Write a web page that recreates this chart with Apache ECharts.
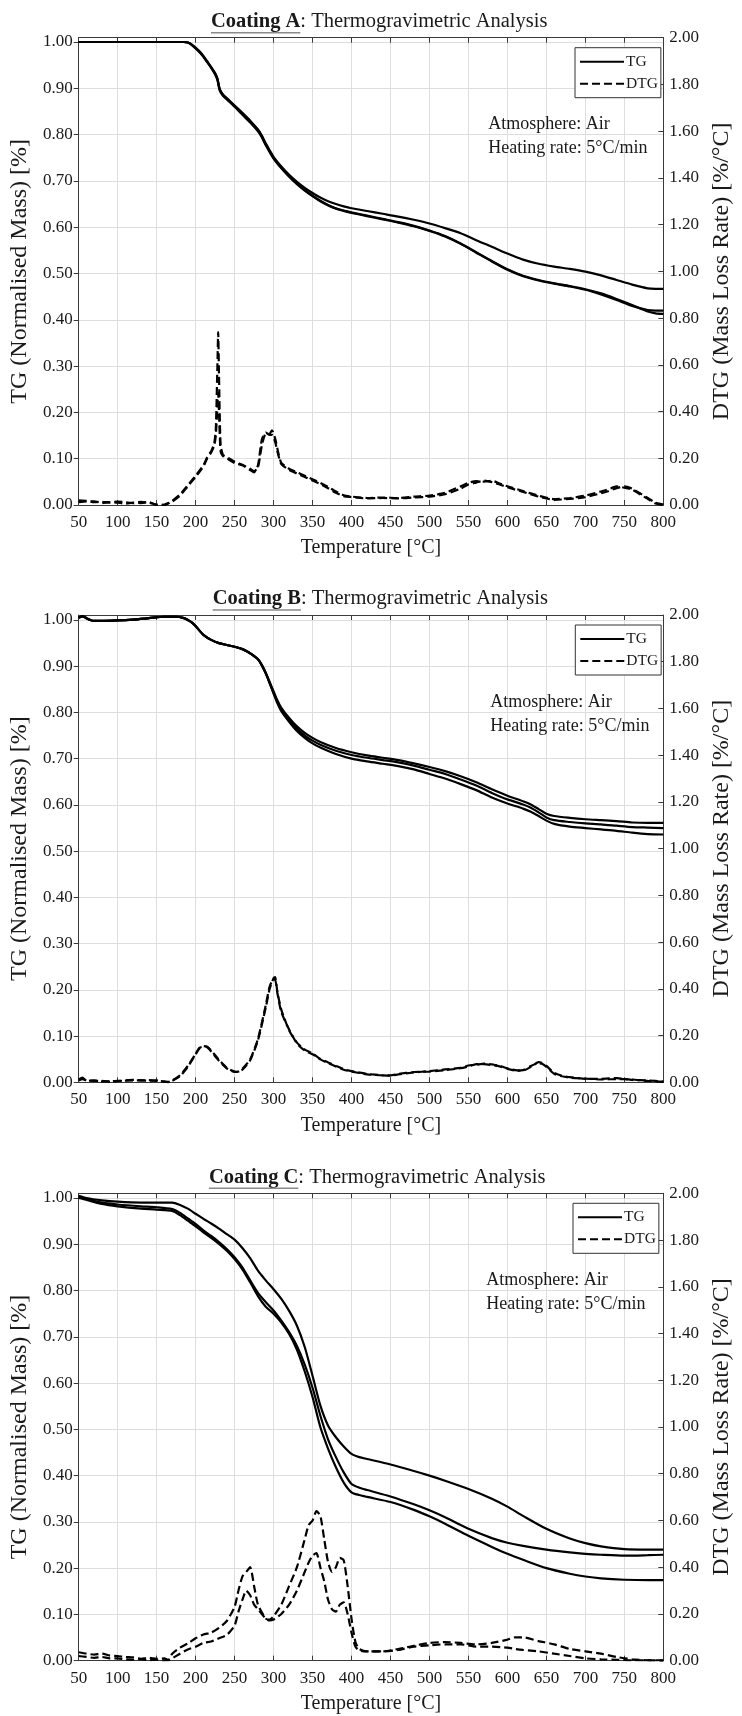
<!DOCTYPE html>
<html><head><meta charset="utf-8">
<script src="https://cdn.jsdelivr.net/npm/echarts@6/dist/echarts.min.js"></script>
<style>html,body{margin:0;padding:0;background:#fff}#c{width:742px;height:1716px}</style>
</head><body><div id="c"></div>
<script>
// ---------------- Panel A (Coating A) ----------------
const TA = [50,100,150,185,190,195,200,205,210,215,220,225,228,231,235,240,250,260,270,280,285,290,300,310,320,330,340,350,360,370,380,390,400,420,440,460,480,500,520,540,560,580,600,620,640,660,680,700,720,740,760,780,790,800];
const TG_A1 = [1.000,1.000,1.000,1.000,0.999,0.994,0.986,0.978,0.968,0.956,0.944,0.930,0.918,0.895,0.884,0.876,0.860,0.843,0.826,0.807,0.794,0.777,0.748,0.727,0.709,0.693,0.679,0.667,0.656,0.647,0.640,0.635,0.631,0.624,0.617,0.610,0.602,0.592,0.580,0.564,0.545,0.526,0.508,0.494,0.485,0.478,0.472,0.465,0.455,0.443,0.430,0.421,0.420,0.420];
const TG_A2 = [1.000,1.000,1.000,1.000,0.999,0.994,0.987,0.979,0.969,0.957,0.945,0.932,0.920,0.897,0.886,0.878,0.862,0.846,0.829,0.810,0.796,0.779,0.750,0.729,0.710,0.694,0.680,0.668,0.657,0.648,0.641,0.636,0.632,0.625,0.618,0.611,0.603,0.593,0.581,0.565,0.546,0.527,0.509,0.495,0.486,0.479,0.473,0.466,0.457,0.445,0.432,0.418,0.414,0.413];
const TG_A3 = [1.000,1.000,1.000,1.000,0.999,0.995,0.988,0.980,0.970,0.958,0.946,0.933,0.921,0.898,0.887,0.879,0.863,0.847,0.830,0.811,0.798,0.781,0.752,0.731,0.713,0.698,0.685,0.674,0.664,0.656,0.650,0.645,0.641,0.635,0.629,0.623,0.616,0.608,0.598,0.587,0.572,0.558,0.543,0.530,0.521,0.515,0.510,0.504,0.496,0.486,0.476,0.468,0.467,0.467];
const TAd = [50,60,70,80,90,100,110,120,130,140,150,160,170,180,190,200,210,215,220,224,226,228,229,230,232,235,240,250,260,270,275,280,285,290,295,298,302,306,310,320,330,340,350,360,370,380,390,400,420,440,460,480,500,520,540,550,560,570,580,590,600,620,640,660,680,700,720,730,740,750,760,770,780,790,800];
const DTG_A1 = [0.020,0.018,0.012,0.014,0.010,0.015,0.012,0.008,0.014,0.010,0.002,0.000,0.018,0.045,0.085,0.125,0.170,0.205,0.230,0.265,0.330,0.600,0.740,0.560,0.260,0.215,0.205,0.185,0.172,0.155,0.145,0.160,0.255,0.305,0.305,0.320,0.285,0.225,0.180,0.155,0.140,0.125,0.110,0.095,0.078,0.058,0.042,0.036,0.030,0.032,0.030,0.036,0.040,0.052,0.080,0.095,0.102,0.100,0.104,0.092,0.080,0.060,0.040,0.025,0.030,0.040,0.058,0.068,0.080,0.074,0.066,0.046,0.026,0.006,0.000];
const DTG_A2 = [0.012,0.015,0.016,0.008,0.012,0.010,0.006,0.010,0.008,0.012,0.000,0.002,0.015,0.040,0.080,0.120,0.165,0.200,0.225,0.255,0.300,0.420,0.480,0.400,0.230,0.210,0.200,0.180,0.170,0.150,0.140,0.170,0.280,0.310,0.300,0.300,0.270,0.215,0.175,0.150,0.135,0.120,0.105,0.090,0.072,0.052,0.038,0.034,0.028,0.030,0.028,0.032,0.036,0.046,0.070,0.088,0.096,0.104,0.098,0.088,0.076,0.056,0.036,0.022,0.026,0.034,0.050,0.060,0.072,0.080,0.070,0.050,0.030,0.010,0.002];

// ---------------- Panel B (Coating B) ----------------
const TB = [50,55,60,65,70,80,100,120,140,160,175,185,190,195,200,205,210,220,230,240,250,260,265,270,280,285,290,295,300,305,310,320,330,340,350,360,380,400,420,440,460,480,500,520,540,560,580,600,620,630,640,650,660,680,700,720,740,760,780,800];
const TG_B1 = [1.005,1.008,1.004,1.000,0.998,0.998,0.999,1.001,1.004,1.007,1.007,1.004,1.000,0.995,0.987,0.977,0.968,0.957,0.950,0.946,0.942,0.937,0.933,0.928,0.915,0.903,0.886,0.866,0.846,0.826,0.810,0.788,0.770,0.756,0.745,0.736,0.723,0.714,0.707,0.702,0.697,0.690,0.682,0.673,0.662,0.649,0.634,0.620,0.608,0.601,0.591,0.581,0.576,0.572,0.569,0.567,0.565,0.562,0.561,0.561];
const TG_B2 = [1.005,1.008,1.004,1.000,0.998,0.998,0.999,1.001,1.004,1.007,1.007,1.004,1.000,0.995,0.987,0.977,0.968,0.957,0.950,0.946,0.942,0.937,0.933,0.928,0.915,0.902,0.885,0.864,0.843,0.822,0.806,0.784,0.765,0.750,0.739,0.730,0.717,0.708,0.702,0.697,0.692,0.685,0.676,0.667,0.655,0.642,0.626,0.612,0.601,0.594,0.584,0.573,0.567,0.563,0.560,0.558,0.555,0.552,0.551,0.550];
const TG_B3 = [1.005,1.008,1.004,1.000,0.998,0.998,0.999,1.001,1.004,1.007,1.007,1.004,1.000,0.995,0.987,0.977,0.968,0.957,0.950,0.946,0.942,0.937,0.933,0.928,0.915,0.901,0.884,0.863,0.841,0.820,0.803,0.780,0.760,0.745,0.733,0.724,0.710,0.700,0.694,0.689,0.684,0.677,0.667,0.657,0.645,0.632,0.616,0.603,0.592,0.585,0.576,0.566,0.559,0.553,0.550,0.547,0.544,0.540,0.537,0.536];
const TBd = [50,55,60,70,80,90,100,120,140,150,160,165,170,180,190,200,205,210,215,220,230,240,250,255,260,270,280,290,295,300,302,305,310,320,330,340,350,360,370,380,390,400,420,440,450,460,480,500,520,540,550,560,570,580,590,600,610,620,630,640,645,650,660,670,680,700,720,740,760,780,800];
const DTG_B1 = [0.012,0.020,0.006,0.008,0.004,0.004,0.006,0.008,0.009,0.006,0.004,0.000,0.006,0.026,0.066,0.120,0.145,0.155,0.152,0.136,0.096,0.062,0.046,0.044,0.054,0.094,0.180,0.320,0.400,0.445,0.450,0.385,0.310,0.222,0.170,0.140,0.124,0.100,0.085,0.070,0.056,0.048,0.036,0.030,0.028,0.034,0.042,0.048,0.055,0.062,0.072,0.075,0.080,0.077,0.070,0.060,0.052,0.050,0.066,0.086,0.082,0.070,0.040,0.028,0.022,0.015,0.015,0.018,0.010,0.008,0.003];
const DTG_B2 = [0.008,0.014,0.008,0.006,0.006,0.003,0.005,0.010,0.007,0.008,0.002,0.002,0.008,0.030,0.070,0.122,0.148,0.152,0.150,0.132,0.092,0.060,0.044,0.046,0.058,0.098,0.186,0.330,0.410,0.440,0.440,0.380,0.300,0.226,0.166,0.136,0.120,0.098,0.082,0.068,0.054,0.046,0.034,0.030,0.030,0.036,0.044,0.046,0.052,0.060,0.068,0.078,0.078,0.074,0.068,0.058,0.050,0.052,0.070,0.082,0.078,0.066,0.036,0.026,0.020,0.016,0.012,0.014,0.012,0.006,0.002];

// ---------------- Panel C (Coating C) ----------------
const TC = [50,60,80,100,130,150,170,180,190,200,210,220,230,240,250,260,270,280,290,300,310,320,330,340,350,360,370,380,390,400,410,420,450,480,500,520,550,580,600,620,650,680,700,720,750,780,800];
const TG_C1 = [1.005,1.000,0.995,0.992,0.990,0.990,0.990,0.985,0.977,0.966,0.955,0.945,0.934,0.922,0.910,0.892,0.870,0.843,0.822,0.803,0.782,0.756,0.724,0.678,0.616,0.552,0.508,0.483,0.463,0.447,0.440,0.436,0.424,0.410,0.400,0.389,0.371,0.350,0.333,0.313,0.285,0.264,0.254,0.247,0.241,0.240,0.240];
const TG_C2 = [1.002,0.998,0.990,0.986,0.982,0.980,0.976,0.968,0.956,0.944,0.930,0.918,0.905,0.890,0.872,0.850,0.822,0.795,0.775,0.757,0.735,0.710,0.680,0.640,0.590,0.530,0.478,0.440,0.407,0.382,0.374,0.369,0.355,0.338,0.325,0.310,0.285,0.265,0.255,0.248,0.240,0.234,0.231,0.229,0.227,0.228,0.229];
const TG_C3 = [1.000,0.996,0.987,0.982,0.977,0.975,0.972,0.963,0.951,0.939,0.926,0.914,0.901,0.886,0.868,0.846,0.818,0.788,0.765,0.750,0.731,0.706,0.672,0.625,0.570,0.505,0.458,0.418,0.385,0.364,0.358,0.354,0.343,0.326,0.312,0.296,0.270,0.246,0.231,0.218,0.200,0.188,0.182,0.178,0.175,0.174,0.174];
const TCd = [50,60,70,80,90,100,110,120,130,140,150,160,165,170,180,190,200,210,220,230,240,250,255,260,265,270,275,280,290,295,300,310,320,330,340,345,350,355,360,365,370,375,380,385,390,395,400,405,410,420,440,460,480,500,520,540,560,580,600,610,620,640,660,680,700,720,740,760,780,800];
const DTG_C1 = [0.036,0.030,0.026,0.030,0.022,0.020,0.016,0.014,0.008,0.012,0.008,0.010,0.004,0.030,0.056,0.074,0.096,0.112,0.120,0.140,0.170,0.230,0.300,0.360,0.380,0.400,0.320,0.240,0.180,0.176,0.190,0.240,0.320,0.400,0.520,0.580,0.600,0.640,0.620,0.520,0.420,0.380,0.400,0.440,0.430,0.320,0.180,0.080,0.050,0.040,0.040,0.050,0.064,0.076,0.080,0.076,0.070,0.076,0.090,0.100,0.100,0.084,0.070,0.050,0.040,0.030,0.016,0.006,0.002,0.002];
const DTG_C2 = [0.020,0.016,0.012,0.016,0.010,0.010,0.006,0.004,0.006,0.002,0.004,0.002,0.002,0.010,0.030,0.048,0.060,0.076,0.082,0.096,0.110,0.150,0.210,0.260,0.300,0.280,0.240,0.220,0.180,0.172,0.176,0.200,0.240,0.300,0.380,0.420,0.450,0.460,0.400,0.340,0.260,0.220,0.210,0.240,0.250,0.200,0.120,0.060,0.044,0.040,0.040,0.046,0.060,0.066,0.070,0.070,0.060,0.060,0.056,0.050,0.046,0.040,0.030,0.020,0.010,0.006,0.004,0.002,0.002,0.000];

// ---------------- Labels ----------------
const TITLE_BOLD = ['Coating A','Coating B','Coating C'];
const TITLE_REST = ': Thermogravimetric Analysis';
const X_NAME = 'Temperature [°C]';
const YL_NAME = 'TG (Normalised Mass) [%]';
const YR_NAME = 'DTG (Mass Loss Rate) [%/°C]';
const NOTE1 = 'Atmosphere: Air';
const NOTE2 = 'Heating rate: 5°C/min';

// ---------------- Layout ----------------
const FONT = '"Liberation Serif","Times New Roman",serif';
const AX = '#3a3a3a', GRID = '#dedede', TXT = '#1a1a1a';
const panels = [
  {left:76.3, right:678,   top:37.7,   bottom:505,    tgMax:1.0093, tgT:TA, tg:[TG_A1,TG_A2,TG_A3], dT:TAd, dtg:[DTG_A1,DTG_A2]},
  {left:78.3, right:678.3, top:615,    bottom:1082.3, tgMax:1.0108, tgT:TB, tg:[TG_B1,TG_B2,TG_B3], dT:TBd, dtg:[DTG_B1,DTG_B2]},
  {left:74.3, right:676,   top:1193.3, bottom:1660.7, tgMax:1.0102, tgT:TC, tg:[TG_C1,TG_C2,TG_C3], dT:TCd, dtg:[DTG_C1,DTG_C2]}
];

const ctx = document.createElement('canvas').getContext('2d');
function tw(text, font){ ctx.font = font; return ctx.measureText(text).width; }
const zip = (xs, ys) => xs.map((x,k)=>[x, ys[k]]);

const grid=[], xAxis=[], yAxis=[], series=[], legend=[], graphic=[];
const lblStyle = {fontSize:17, fontFamily:FONT, color:TXT};
const nameStyle = {fontSize:20, fontFamily:FONT, color:TXT};
const yNameStyle = {fontSize:24, fontFamily:FONT, color:TXT};

panels.forEach((p,i)=>{
  grid.push({left:p.left, top:p.top, width:p.right-p.left, height:p.bottom-p.top});
  xAxis.push({gridIndex:i, type:'value', min:50, max:800, interval:50, position:'bottom',
    axisLine:{onZero:false, lineStyle:{color:AX, width:1}},
    axisTick:{inside:true, length:5, lineStyle:{color:AX}},
    axisLabel:Object.assign({margin:9}, lblStyle),
    splitLine:{show:true, lineStyle:{color:GRID, width:1}},
    name:X_NAME, nameLocation:'middle', nameGap:33, nameTextStyle:nameStyle});
  xAxis.push({gridIndex:i, type:'value', min:50, max:800, interval:50, position:'top',
    axisLine:{onZero:false, lineStyle:{color:AX, width:1}},
    axisTick:{inside:true, length:5, lineStyle:{color:AX}},
    axisLabel:{show:false}, splitLine:{show:false}});
  yAxis.push({gridIndex:i, type:'value', min:0, max:p.tgMax, interval:0.1, position:'left',
    axisLine:{show:true, onZero:false, lineStyle:{color:AX, width:1}},
    axisTick:{show:true, inside:false, length:5, lineStyle:{color:AX}},
    axisLabel:Object.assign({margin:6, showMaxLabel:false, formatter:v=>v.toFixed(2)}, lblStyle),
    splitLine:{show:true, lineStyle:{color:GRID, width:1}},
    name:YL_NAME, nameLocation:'middle', nameRotate:90, nameGap:42, nameTextStyle:yNameStyle});
  yAxis.push({gridIndex:i, type:'value', min:0, max:2, interval:0.2, position:'right',
    axisLine:{show:true, onZero:false, lineStyle:{color:AX, width:1}},
    axisTick:{show:true, inside:true, length:5, lineStyle:{color:AX}},
    axisLabel:Object.assign({margin:6, formatter:v=>v.toFixed(2)}, lblStyle),
    splitLine:{show:false},
    name:YR_NAME, nameLocation:'middle', nameRotate:90, nameGap:42, nameTextStyle:yNameStyle});
  p.tg.forEach(arr=>series.push({type:'line', name:'TG', xAxisIndex:2*i, yAxisIndex:2*i,
    data:zip(p.tgT, arr), symbol:'none', showSymbol:false, smooth:0.25, animation:false,
    lineStyle:{color:'#000', width:2.2}, z:3}));
  p.dtg.forEach(arr=>series.push({type:'line', name:'DTG', xAxisIndex:2*i, yAxisIndex:2*i+1,
    data:zip(p.dT, arr), symbol:'none', showSymbol:false, smooth:0.2, animation:false,
    lineStyle:{color:'#000', width:2.2, type:[8,4]}, z:4}));
  legend.push({data:['TG','DTG'], orient:'vertical', left:p.right-103, top:p.top+10,
    selectedMode:false, itemWidth:44, itemHeight:14, itemGap:6,
    padding:[6,3,6,4], borderColor:'#333', borderWidth:1, backgroundColor:'#fff',
    itemStyle:{opacity:0},
    textStyle:{fontSize:15.5, fontFamily:FONT, color:TXT, padding:[0,0,0,-3]}});
  // title
  const fB = 'bold 20.5px "Liberation Serif"', fR = '20.5px "Liberation Serif"';
  const wB = tw(TITLE_BOLD[i], fB), wR = tw(TITLE_REST, fR);
  const cx = (p.left + p.right)/2 + 2, x0 = cx - (wB+wR)/2, ty = p.top - 16;
  graphic.push({type:'text', x:x0, y:ty, style:{text:TITLE_BOLD[i], font:fB, fill:TXT, textAlign:'left', textVerticalAlign:'middle', align:'left', verticalAlign:'middle'}});
  graphic.push({type:'text', x:x0+wB, y:ty, style:{text:TITLE_REST, font:fR, fill:TXT, textAlign:'left', textVerticalAlign:'middle', align:'left', verticalAlign:'middle'}});
  graphic.push({type:'line', shape:{x1:x0, y1:p.top-5, x2:x0+wB, y2:p.top-5}, style:{stroke:'#8a8a8a', lineWidth:1.5}});
  // annotations
  const fN = '18px "Liberation Serif"';
  graphic.push({type:'text', x:p.left+412, y:p.top+87, style:{text:NOTE1, font:fN, fill:TXT, textAlign:'left', textVerticalAlign:'middle', align:'left', verticalAlign:'middle'}, z:10});
  graphic.push({type:'text', x:p.left+412, y:p.top+111, style:{text:NOTE2, font:fN, fill:TXT, textAlign:'left', textVerticalAlign:'middle', align:'left', verticalAlign:'middle'}, z:10});
});

const chart = echarts.init(document.getElementById('c'), null, {renderer:'canvas'});
chart.setOption({animation:false, backgroundColor:'#fff', grid, xAxis, yAxis, series, legend, graphic});
</script></body></html>
